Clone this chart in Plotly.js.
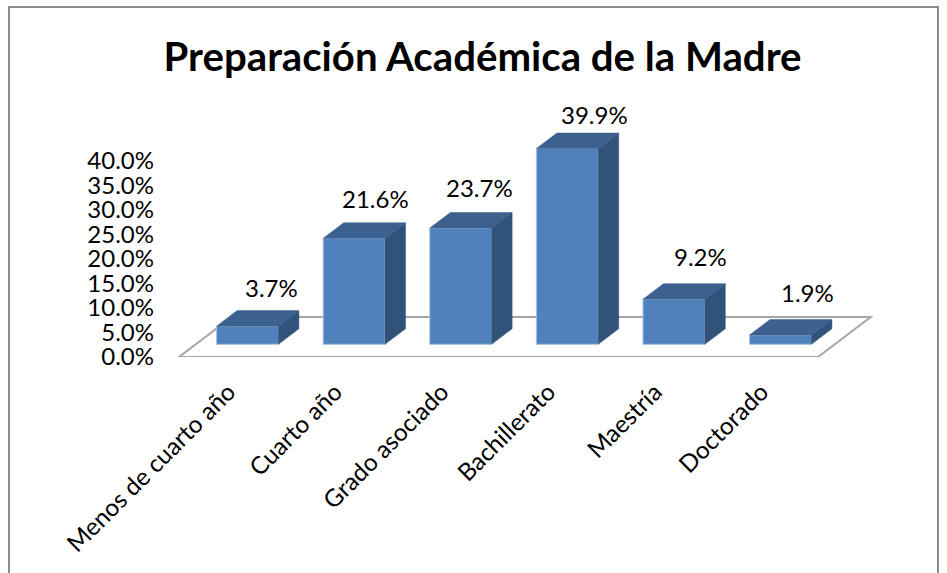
<!DOCTYPE html>
<html>
<head>
<meta charset="utf-8">
<script src="https://cdn.plot.ly/plotly-3.0.1.min.js"></script>
<style>html,body{margin:0;padding:0;background:#fff;overflow:hidden}#chart{width:947px;height:573px}</style>
</head>
<body>
<div id="chart"></div>
<script>
// Data
const categories = ["Menos de cuarto año", "Cuarto año", "Grado asociado", "Bachillerato", "Maestría", "Doctorado"];
const values = [3.7, 21.6, 23.7, 39.9, 9.2, 1.9];
const valueLabels = ["3.7%", "21.6%", "23.7%", "39.9%", "9.2%", "1.9%"];
const yTicks = [0, 5, 10, 15, 20, 25, 30, 35, 40];
const yTickLabels = ["0.0%", "5.0%", "10.0%", "15.0%", "20.0%", "25.0%", "30.0%", "35.0%", "40.0%"];

// Styling and geometry of the pseudo-3D look
const W = 947, H = 573;
const pxPerCat = 106.6, pxPerPct = 4.9;
const x0px = 247.5, zeroPx = 356.7;
const m = {l: 157, r: 47, t: 90, b: H - zeroPx};
const xRange = [(m.l - x0px) / pxPerCat, (W - m.r - x0px) / pxPerCat];
const yRange = [0, (zeroPx - m.t) / pxPerPct];
const barWidth = 0.58;
const barBase = 12.7 / pxPerPct;          // bars stand inside the floor
const dx = 20.5 / pxPerCat, dy = 15.5 / pxPerPct;  // depth vector
const labelShiftPx = [[-14, 23], [-17, 24], [-19, 25], [-11, 19], [-11, 27], [-11, 27]];
const font = "Lato, Carlito, Calibri, sans-serif";
const idx = categories.map((_, i) => i);

// Faces
const sideX = [], sideY = [], topX = [], topY = [];
idx.forEach(i => {
  const r = i + barWidth / 2, l = i - barWidth / 2, t = barBase + values[i];
  sideX.push(r, r + dx, r + dx, r, r, null);
  sideY.push(barBase, barBase + dy, t + dy, t, barBase, null);
  topX.push(l, l + dx, r + dx, r, l, null);
  topY.push(t, t + dy, t + dy, t, t, null);
});

const traces = [
  {type: "bar", x: idx, y: values, base: idx.map(() => barBase), width: barWidth,
   marker: {color: "#4f81bd", line: {color: "#a5c0df", width: 1}}, hoverinfo: "skip"},
  {type: "scatter", mode: "lines", x: sideX, y: sideY, fill: "toself", fillcolor: "#30527b",
   line: {color: "#30527b", width: 0.5}, hoverinfo: "skip"},
  {type: "scatter", mode: "lines", x: topX, y: topY, fill: "toself", fillcolor: "#3c618f",
   line: {color: "#3c618f", width: 0.5}, hoverinfo: "skip"}
];

// Floor parallelogram, in axis units
const fl = (179 - x0px) / pxPerCat, fr = (818 - x0px) / pxPerCat;
const fd = 52.7 / pxPerCat, fh = 40 / pxPerPct;
const floorPath = `M ${fl} 0 L ${fr} 0 L ${fr + fd} ${fh} L ${fl + fd} ${fh} Z`;

const annotations = idx.map(i => ({
  x: i + barWidth / 2 + dx / 2 - 0.03, y: barBase + values[i] + dy,
  text: valueLabels[i], showarrow: false, xanchor: "center", yanchor: "middle",
  xshift: labelShiftPx[i][0], yshift: labelShiftPx[i][1],
  font: {family: font, size: 24, color: "#000"}
}));

const layout = {
  width: W, height: H,
  margin: {l: m.l, r: m.r, t: m.t, b: m.b, pad: 0},
  paper_bgcolor: "#fff", plot_bgcolor: "rgba(0,0,0,0)",
  showlegend: false,
  title: {text: "<b>Preparación Académica de la Madre</b>",
          x: 482.5 / W, xanchor: "center", xref: "container",
          y: 1 - 57 / H, yanchor: "middle", yref: "container",
          font: {family: font, size: 40.2, color: "#000"}},
  xaxis: {range: xRange, showgrid: false, zeroline: false, showline: false,
          tickmode: "array", tickvals: idx, ticktext: categories, tickangle: -45,
          ticks: "", ticklabelshift: -19, ticklabelstandoff: 15,
          tickfont: {family: font, size: 24.3, color: "#000"}},
  yaxis: {range: yRange, showgrid: false, zeroline: false, showline: false,
          tickmode: "array", tickvals: yTicks, ticktext: yTickLabels,
          ticks: "", ticklabelstandoff: 2,
          tickfont: {family: font, size: 24, color: "#000"}},
  annotations: annotations,
  shapes: [
    {type: "path", path: floorPath, xref: "x", yref: "y", layer: "below",
     fillcolor: "#fff", line: {color: "#a6a6a6", width: 2}},
    {type: "path", xref: "paper", yref: "paper", layer: "below",
     path: (function () {
       const px = v => (v - m.l) / (W - m.l - m.r);
       const py = v => 1 - (v - m.t) / (H - m.t - m.b);
       return `M ${px(9)} ${py(573)} L ${px(9)} ${py(7)} L ${px(938)} ${py(7)} L ${px(938)} ${py(573)}`;
     })(),
     line: {color: "#8c8c8c", width: 2}}
  ]
};

Plotly.newPlot("chart", traces, layout, {displayModeBar: false, staticPlot: true});
</script>
</body>
</html>
